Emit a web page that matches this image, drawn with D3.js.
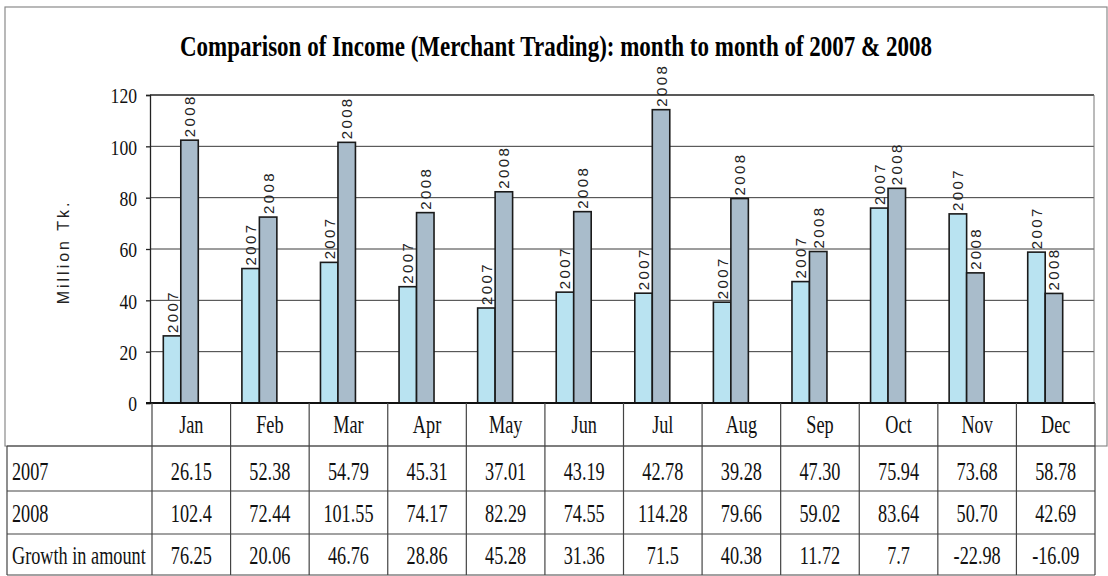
<!DOCTYPE html>
<html>
<head>
<meta charset="utf-8">
<script src="https://cdn.jsdelivr.net/npm/d3@7/dist/d3.min.js"></script>
<style>
  html, body { margin: 0; padding: 0; background: #fff; }
  svg { display: block; }
</style>
</head>
<body>
<svg id="chart" width="1108" height="576"></svg>
<script>
// ---- data ----
const months = ["Jan","Feb","Mar","Apr","May","Jun","Jul","Aug","Sep","Oct","Nov","Dec"];
const series = ["2007","2008"];
const text2007 = ["26.15","52.38","54.79","45.31","37.01","43.19","42.78","39.28","47.30","75.94","73.68","58.78"];
const text2008 = ["102.4","72.44","101.55","74.17","82.29","74.55","114.28","79.66","59.02","83.64","50.70","42.69"];
const textGrowth = ["76.25","20.06","46.76","28.86","45.28","31.36","71.5","40.38","11.72","7.7","-22.98","-16.09"];
const values2007 = text2007.map(Number);
const values2008 = text2008.map(Number);
const yTicks = [0,20,40,60,80,100,120];
const rowLabels = ["2007","2008","Growth in amount"];
const title = "Comparison of Income (Merchant Trading): month to month of 2007 & 2008";
const yTitle = "Million Tk.";

// ---- layout ----
const svg = d3.select("#chart");
const colors = {"2007": "#b9e3f1", "2008": "#a9bccb"};
const serif = "'Liberation Serif','Times New Roman',serif";
const sans = "'Liberation Sans',Arial,sans-serif";
const SX = 0.8;
const TSX = 0.73;

const plotLeft = 150, plotRight = 1094, plotTop = 95, plotBottom = 403;
const tableLeft = 7, tableRight = 1095, tableColStart = 152;
const rowLines = [403, 446, 491, 534, 575];

const y = d3.scaleLinear().domain([0,120]).range([plotBottom, plotTop]);
const x = d3.scaleBand().domain(months).range([141.5, 1084.5]).paddingInner(0.555).paddingOuter(0.2775);
const x1 = d3.scaleBand().domain(series).range([0, x.bandwidth()]);
const xt = d3.scaleBand().domain(months).range([tableColStart, tableRight]);

// outer chart frame
svg.append("rect").attr("x",5).attr("y",7).attr("width",1102).attr("height",439)
  .attr("fill","none").attr("stroke","#8a8a8a").attr("stroke-width",1.2);

// title
svg.append("text")
  .attr("x", 556).attr("y", 56)
  .attr("text-anchor","middle")
  .attr("font-family", serif).attr("font-weight","bold").attr("font-size", 29)
  .attr("textLength", 752).attr("lengthAdjust","spacingAndGlyphs")
  .text(title);

// gridlines
svg.append("g").selectAll("line").data(yTicks.filter(d => d > 0)).join("line")
  .attr("x1", plotLeft).attr("x2", plotRight)
  .attr("y1", d => y(d)).attr("y2", d => y(d))
  .attr("stroke", d => d === 120 ? "#222" : "#3a3a3a").attr("stroke-width", d => d === 120 ? 1.5 : 1);
// plot right border
svg.append("line").attr("x1",plotRight).attr("x2",plotRight).attr("y1",plotTop).attr("y2",plotBottom)
  .attr("stroke","#777").attr("stroke-width",1);

// y axis
const yAxis = d3.axisLeft(y).tickValues(yTicks).tickSize(4).tickFormat(d3.format("d"));
const gy = svg.append("g").attr("transform", `translate(${plotLeft},0)`).call(yAxis);
gy.select(".domain").attr("stroke","#222").attr("stroke-width",1.3);
gy.selectAll(".tick line").attr("stroke","#222").attr("stroke-width",1.3);
gy.selectAll(".tick text")
  .attr("font-family", serif).attr("font-size", 22).attr("fill","#111")
  .attr("x", 0).attr("dy", null).attr("dominant-baseline","central")
  .attr("transform", `translate(-13,0) scale(${SX},1)`);

// y title
svg.append("text")
  .attr("transform", "translate(69,252) rotate(-90)")
  .attr("text-anchor","middle")
  .attr("font-family", sans).attr("font-size", 16).attr("letter-spacing", 3)
  .attr("fill","#222")
  .text(yTitle);

// bars
const data = months.map((m,i) => ({month: m, vals: [
  {s: "2007", v: values2007[i]}, {s: "2008", v: values2008[i]}
]}));
const groups = svg.append("g").selectAll("g").data(data).join("g")
  .attr("transform", d => `translate(${x(d.month)},0)`);
groups.selectAll("rect").data(d => d.vals).join("rect")
  .attr("x", d => x1(d.s)).attr("width", x1.bandwidth())
  .attr("y", d => y(d.v)).attr("height", d => y(0) - y(d.v))
  .attr("fill", d => colors[d.s]).attr("stroke","#1a1a1a").attr("stroke-width",1.6);
groups.selectAll("text").data(d => d.vals).join("text")
  .attr("transform", d => `translate(${x1(d.s) + x1.bandwidth()/2},${y(d.v) - 3}) rotate(-90)`)
  .attr("text-anchor","start").attr("dominant-baseline","central")
  .attr("font-family", sans).attr("font-size", 15).attr("letter-spacing", 2.4)
  .attr("fill","#222")
  .text(d => d.s);

// x axis line
svg.append("line").attr("x1",146).attr("x2",tableRight).attr("y1",plotBottom).attr("y2",plotBottom)
  .attr("stroke","#111").attr("stroke-width",2);

// ---- data table ----
const tbl = svg.append("g");
rowLines.slice(1).forEach(yy => {
  tbl.append("line").attr("x1",tableLeft).attr("x2",tableRight).attr("y1",yy).attr("y2",yy)
    .attr("stroke","#444").attr("stroke-width",1.2);
});
const colEdges = months.map(m => xt(m)).concat([tableRight]);
tbl.selectAll("line.v").data(colEdges).join("line").attr("class","v")
  .attr("x1", d => d).attr("x2", d => d).attr("y1", plotBottom).attr("y2", 575)
  .attr("stroke","#444").attr("stroke-width",1.2);
tbl.append("line").attr("x1",tableLeft).attr("x2",tableLeft).attr("y1",446).attr("y2",575)
  .attr("stroke","#444").attr("stroke-width",1.2);

function cellText(g, cx, cy, str, anchor) {
  g.append("text")
    .attr("transform", `translate(${cx},${cy}) scale(${TSX},1)`)
    .attr("text-anchor", anchor)
    .attr("font-family", serif).attr("font-size", 25).attr("fill","#111")
    .text(str);
}
const baselines = [433, 480, 522, 564];
months.forEach(m => cellText(tbl, xt(m) + xt.bandwidth()/2, baselines[0], m, "middle"));
[text2007, text2008, textGrowth].forEach((row, r) => {
  cellText(tbl, 12, baselines[r+1], rowLabels[r], "start");
  row.forEach((s, i) => cellText(tbl, xt(months[i]) + xt.bandwidth()/2, baselines[r+1], s, "middle"));
});
</script>
</body>
</html>
